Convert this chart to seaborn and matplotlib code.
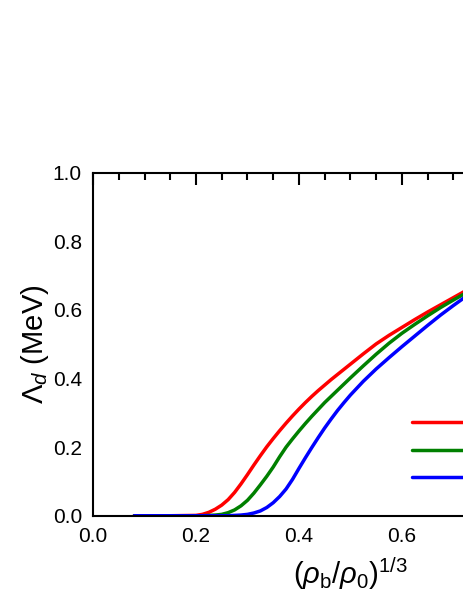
import numpy as np
import pandas as pd
import matplotlib
matplotlib.use("Agg")
import matplotlib.pyplot as plt
import seaborn as sns
from matplotlib.ticker import MultipleLocator
from matplotlib.lines import Line2D

# ---- data ----
x_vals = [0.08, 0.15, 0.20, 0.2125, 0.225, 0.2375, 0.25, 0.2625, 0.275, 0.2875,
          0.30, 0.3125, 0.325, 0.3375, 0.35, 0.3625, 0.375, 0.3875, 0.40, 0.4125,
          0.425, 0.4375, 0.45, 0.4625, 0.475, 0.4875, 0.50, 0.525, 0.55, 0.575,
          0.60, 0.625, 0.65, 0.675, 0.70, 0.725, 0.75]
red_vals = [0.0, 0.0, 0.001, 0.004, 0.010, 0.019, 0.031, 0.047, 0.068, 0.093,
            0.120, 0.148, 0.175, 0.201, 0.225, 0.248, 0.270, 0.291, 0.311, 0.330,
            0.348, 0.365, 0.381, 0.397, 0.412, 0.427, 0.442, 0.472, 0.501, 0.526,
            0.549, 0.572, 0.594, 0.615, 0.636, 0.657, 0.677]
green_vals = [0.0, 0.0, 0.0, 0.0, 0.001, 0.002, 0.004, 0.009, 0.017, 0.029,
              0.045, 0.066, 0.090, 0.115, 0.142, 0.172, 0.200, 0.224, 0.247, 0.269,
              0.290, 0.310, 0.330, 0.348, 0.366, 0.384, 0.402, 0.437, 0.471, 0.503,
              0.532, 0.558, 0.583, 0.607, 0.629, 0.650, 0.670]
blue_vals = [0.0, 0.0, 0.0, 0.0, 0.0, 0.0, 0.0, 0.0, 0.001, 0.002,
             0.004, 0.008, 0.014, 0.024, 0.038, 0.056, 0.078, 0.106, 0.138, 0.169,
             0.199, 0.228, 0.256, 0.282, 0.307, 0.330, 0.352, 0.392, 0.428, 0.461,
             0.493, 0.524, 0.555, 0.585, 0.613, 0.640, 0.665]
series_names = ["case 1", "case 2", "case 3"]
colors = ["#ff0000", "#008000", "#0000ff"]

xticks = [0.0, 0.2, 0.4, 0.6, 0.8, 1.0]
xtick_labels = ["0.0", "0.2", "0.4", "0.6", "", ""]
yticks = [0.0, 0.2, 0.4, 0.6, 0.8, 1.0]
ytick_labels = ["0.0", "0.2", "0.4", "0.6", "0.8", "1.0"]

df = pd.concat([
    pd.DataFrame({"x": x_vals, "y": vals, "series": name})
    for name, vals in zip(series_names, [red_vals, green_vals, blue_vals])
], ignore_index=True)

sns.set_style("white")
plt.rcParams["font.family"] = ["Liberation Sans", "DejaVu Sans"]
plt.rcParams["mathtext.fontset"] = "custom"
plt.rcParams["mathtext.rm"] = "Liberation Sans"
plt.rcParams["mathtext.it"] = "Liberation Sans:italic"
plt.rcParams["mathtext.bf"] = "Liberation Sans:bold"
for k in ["text.color", "axes.labelcolor", "xtick.color", "ytick.color"]:
    plt.rcParams[k] = "black"

fig = plt.figure(figsize=(4.63, 5.99), dpi=100)
ax = fig.add_axes([0.2009, 0.139, 1.112, 0.5726])

sns.lineplot(data=df, x="x", y="y", hue="series", palette=colors,
             linewidth=2.5, ax=ax, legend=False)

ax.set_xlim(0, 1.0)
ax.set_ylim(0, 1.0)
ax.set_xticks(xticks)
ax.set_yticks(yticks)
ax.set_xticklabels(xtick_labels)
ax.set_yticklabels(ytick_labels)
ax.xaxis.set_minor_locator(MultipleLocator(0.05))
ax.yaxis.set_minor_locator(MultipleLocator(0.05))
ax.tick_params(which="both", direction="in", top=True, right=True,
               width=1.5, color="black", labelsize=15, pad=8)
ax.tick_params(which="major", length=8.5)
ax.tick_params(which="minor", length=5)
for s in ax.spines.values():
    s.set_linewidth(1.5)
    s.set_color("black")

ax.set_xlabel(r"$(\rho_{\rm b}/\rho_{\rm 0})^{1/3}$", fontsize=21, labelpad=7)
ax.set_ylabel(r"$\Lambda_d$ (MeV)", fontsize=21, labelpad=1)

handles = [Line2D([], [], color=c, lw=2.5) for c in colors]
ax.legend(handles, ["", "", ""], loc="upper left",
          bbox_to_anchor=(0.62, 0.291), bbox_transform=ax.transData,
          frameon=False, fontsize=12, handlelength=4, borderpad=0,
          borderaxespad=0, labelspacing=0.75, handletextpad=0.5)

fig.savefig("out.png", dpi=100)
